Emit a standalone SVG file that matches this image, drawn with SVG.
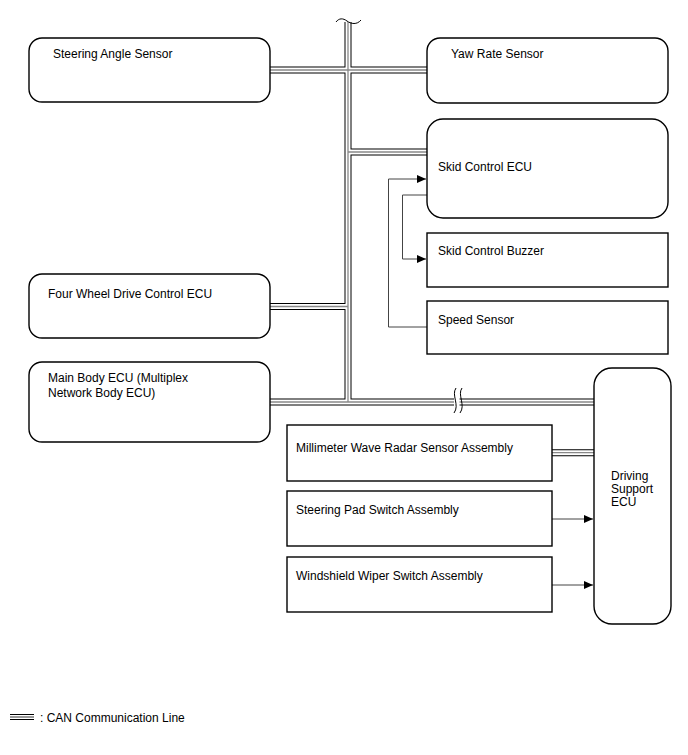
<svg xmlns="http://www.w3.org/2000/svg" width="688" height="755" viewBox="0 0 688 755">
<defs>
<style>
.box{fill:#fff;stroke:#000;stroke-width:1.4}
.t{font-family:"Liberation Sans",Arial,sans-serif;font-size:12px;fill:#000}
.pb{fill:none;stroke:#000;stroke-width:7}
.pw{fill:none;stroke:#fff;stroke-width:5}
.pg{fill:none;stroke:#888;stroke-width:1.3}
.ln{fill:none;stroke:#444;stroke-width:1}
.sq{fill:none;stroke:#000;stroke-width:1}
</style>
<marker id="ah" markerWidth="10" markerHeight="8" refX="9" refY="4" orient="auto" markerUnits="userSpaceOnUse">
<path d="M0,0 L9,4 L0,8 Z" fill="#000"/>
</marker>
<g id="can">
<path d="M348,22 V402"/>
<path d="M270,70 H427"/>
<path d="M348,152 H427"/>
<path d="M270,306.5 H348"/>
<path d="M270,402 H594"/>
<path d="M552,452.7 H594"/>
</g>
</defs>
<g id="connectors">
<use href="#can" class="pb"/>
<use href="#can" class="pw"/>
<use href="#can" class="pg"/>
<rect x="454" y="396" width="5.5" height="12" fill="#fff"/>
<path class="sq" d="M456,388 C451,395 460,405 454,413"/>
<path class="sq" d="M462,388 C457,395 466,405 460,413"/>
<path class="sq" d="M336,22 C339,18 343,18 347,21 S357,25 361,20"/>
<path class="ln" d="M427,327 H388.5 V179 H426" marker-end="url(#ah)"/>
<path class="ln" d="M427,195 H402.5 V259 H426" marker-end="url(#ah)"/>
<path class="ln" d="M552,519 H593" marker-end="url(#ah)"/>
<path class="ln" d="M552,585 H593" marker-end="url(#ah)"/>
</g>
<g id="steering-angle-sensor"><rect class="box" x="29" y="38" width="241" height="64" rx="13"/><text class="t" x="53" y="58">Steering Angle Sensor</text></g>
<g id="yaw-rate-sensor"><rect class="box" x="427" y="38" width="241" height="65" rx="13"/><text class="t" x="451" y="58">Yaw Rate Sensor</text></g>
<g id="skid-control-ecu"><rect class="box" x="427" y="119" width="241" height="99" rx="16"/><text class="t" x="438" y="171">Skid Control ECU</text></g>
<g id="skid-control-buzzer"><rect class="box" x="427" y="233" width="241" height="54"/><text class="t" x="438" y="255">Skid Control Buzzer</text></g>
<g id="speed-sensor"><rect class="box" x="427" y="301" width="241" height="53"/><text class="t" x="438" y="324">Speed Sensor</text></g>
<g id="four-wheel-drive-control-ecu"><rect class="box" x="29" y="274" width="241" height="64" rx="13"/><text class="t" x="48" y="298">Four Wheel Drive Control ECU</text></g>
<g id="main-body-ecu"><rect class="box" x="29" y="362" width="241" height="80" rx="13"/><text class="t" x="48" y="382">Main Body ECU (Multiplex</text><text class="t" x="48" y="397">Network Body ECU)</text></g>
<g id="millimeter-wave-radar"><rect class="box" x="287" y="425" width="265" height="56"/><text class="t" x="296" y="452">Millimeter Wave Radar Sensor Assembly</text></g>
<g id="steering-pad-switch"><rect class="box" x="287" y="491" width="265" height="55"/><text class="t" x="296" y="514">Steering Pad Switch Assembly</text></g>
<g id="windshield-wiper-switch"><rect class="box" x="287" y="557" width="265" height="55"/><text class="t" x="296" y="580">Windshield Wiper Switch Assembly</text></g>
<g id="driving-support-ecu"><rect class="box" x="594" y="368" width="77" height="256" rx="18"/><text class="t" x="611" y="480">Driving</text><text class="t" x="611" y="493">Support</text><text class="t" x="611" y="506">ECU</text></g>
<g id="legend">
<path d="M10,714.5 H34 M10,719.5 H34" stroke="#000" stroke-width="1.2"/>
<path d="M10,717 H34" stroke="#333" stroke-width="1"/>
<text class="t" x="40" y="722">: CAN Communication Line</text>
</g>
</svg>
